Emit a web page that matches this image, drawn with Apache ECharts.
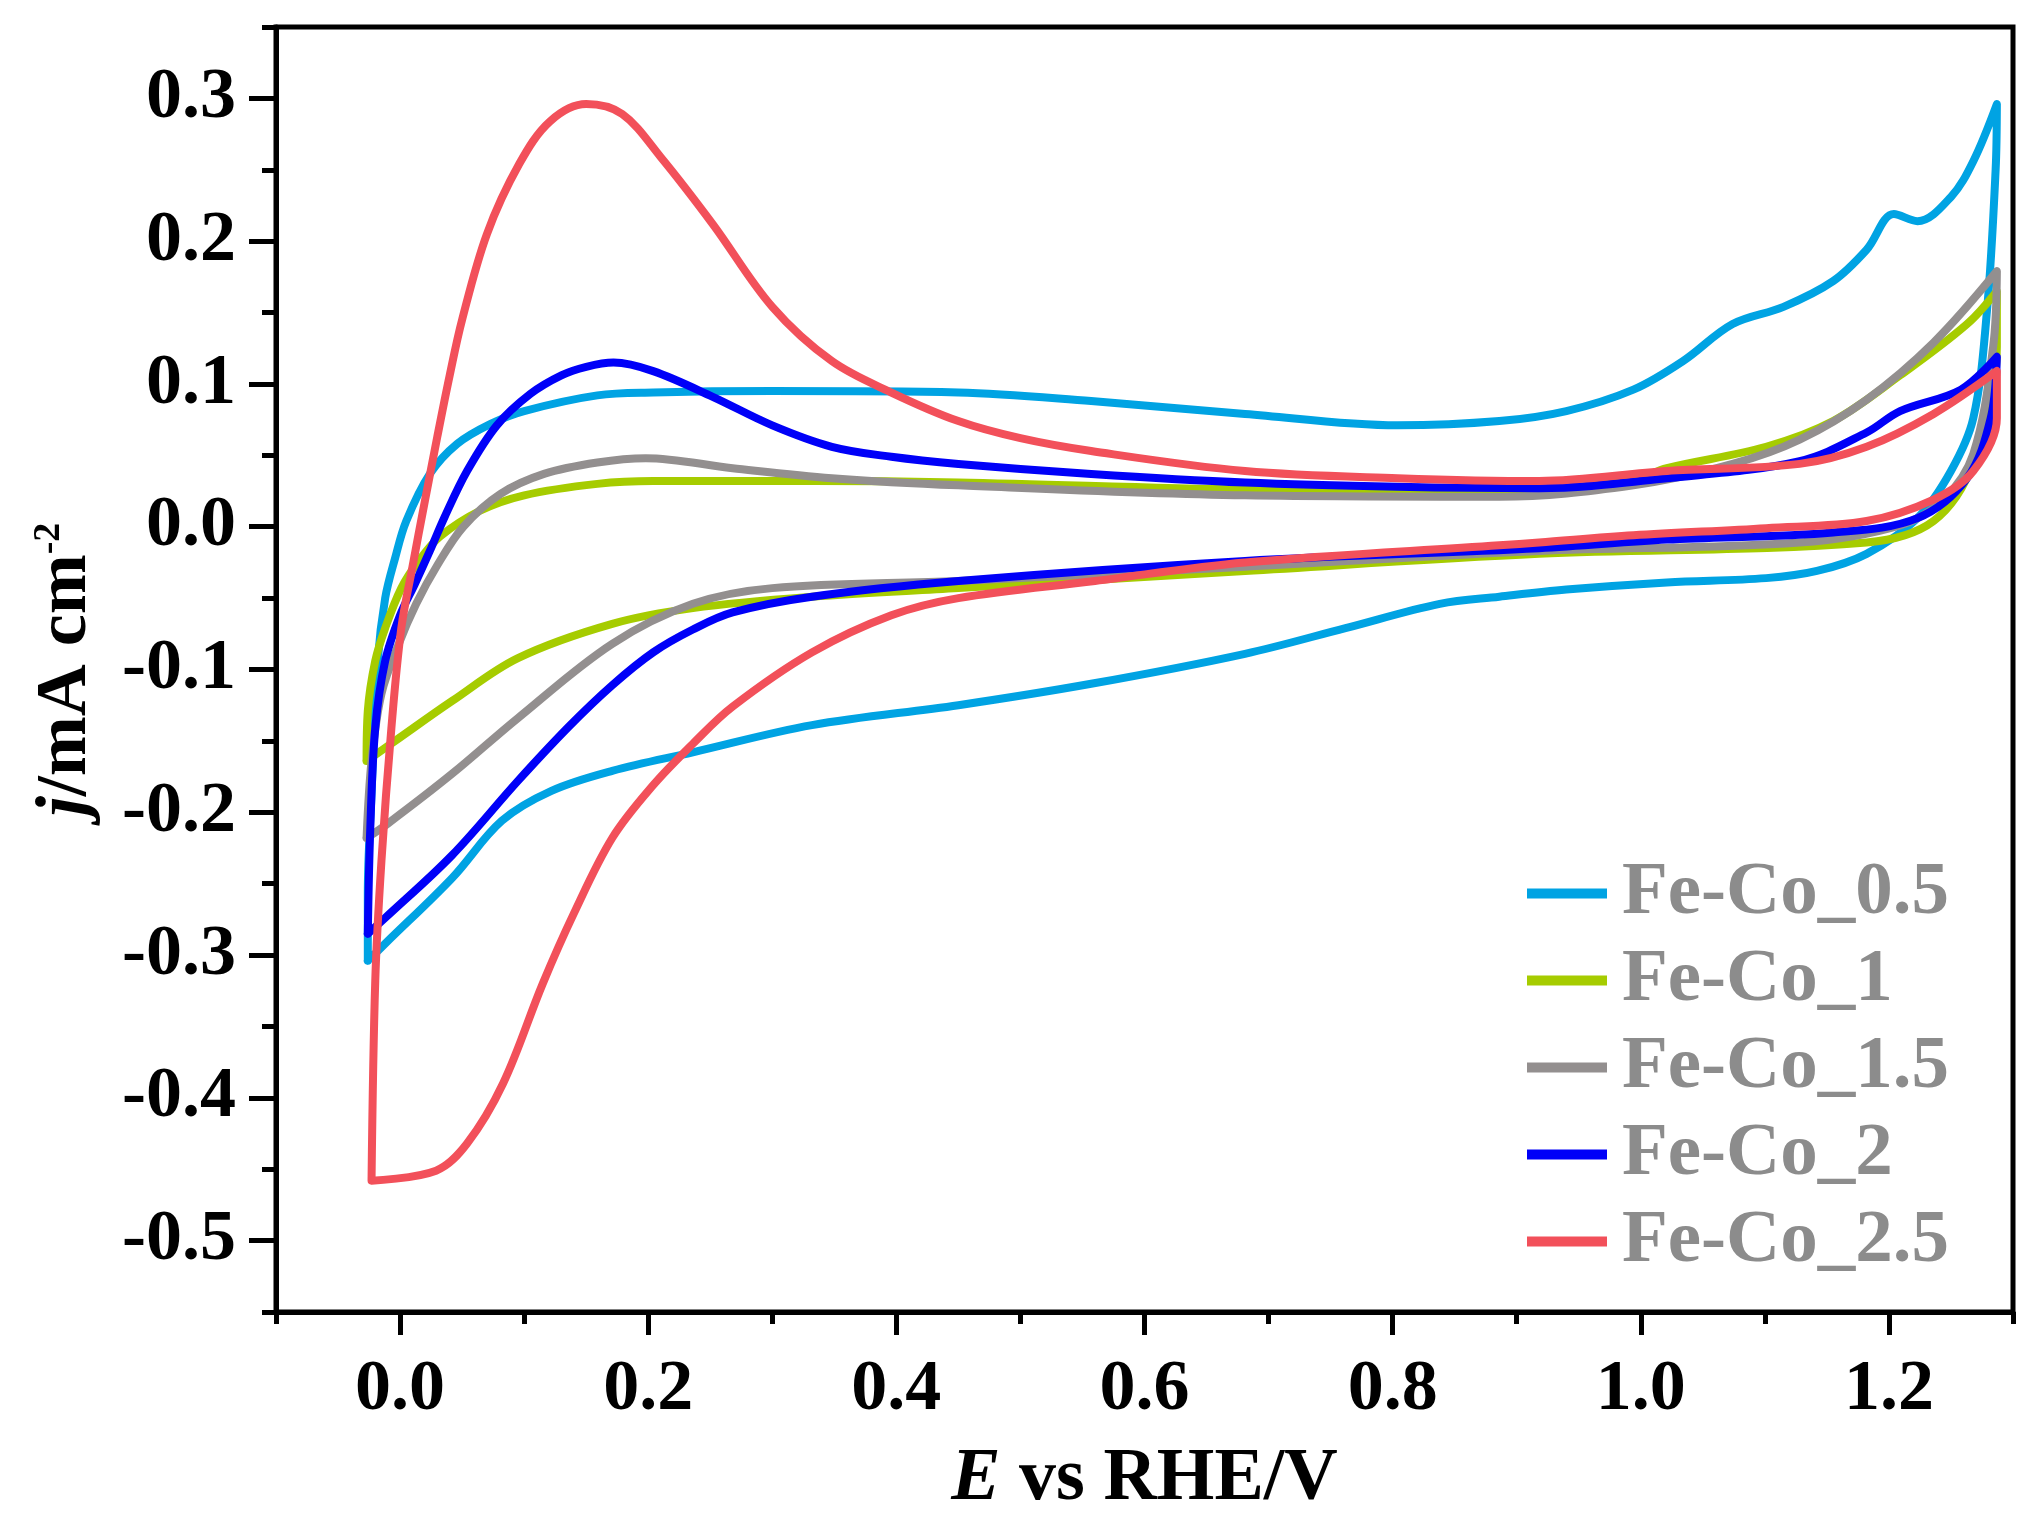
<!DOCTYPE html>
<html>
<head>
<meta charset="utf-8">
<script src="https://cdn.jsdelivr.net/npm/echarts@6/dist/echarts.min.js"></script>
<style>
html,body{margin:0;padding:0;background:#fff;}
#chart{width:2038px;height:1536px;}
</style>
</head>
<body>
<div id="chart"></div>
<script>
// ---- data (E vs RHE / V, j / mA cm^-2), each loop: anodic sweep then cathodic sweep ----
const seriesNames = ['Fe-Co_0.5', 'Fe-Co_1', 'Fe-Co_1.5', 'Fe-Co_2', 'Fe-Co_2.5'];
const seriesColors = ['#00A3E3', '#A6CC00', '#938F8F', '#0000F8', '#F2505A'];

const feCo05 = [
  [-0.026,-0.304],[-0.026,-0.257],[-0.023,-0.187],[-0.018,-0.094],[-0.012,-0.050],[-0.004,-0.022],
  [0.005,0.004],[0.024,0.037],[0.046,0.058],[0.073,0.072],[0.100,0.081],[0.159,0.092],
  [0.204,0.094],[0.300,0.095],[0.450,0.094],[0.557,0.088],[0.681,0.079],[0.804,0.071],
  [0.886,0.074],[0.940,0.081],[0.994,0.096],[1.034,0.116],[1.074,0.142],[1.115,0.154],
  [1.155,0.172],[1.182,0.194],[1.204,0.219],[1.223,0.214],[1.250,0.231],[1.268,0.256],[1.287,0.296],
  [1.286,0.250],[1.279,0.151],[1.268,0.076],[1.250,0.039],[1.223,0.006],[1.182,-0.019],
  [1.142,-0.031],[1.101,-0.036],[1.021,-0.039],[0.940,-0.044],[0.886,-0.049],[0.838,-0.054],
  [0.762,-0.071],[0.681,-0.089],[0.557,-0.110],[0.450,-0.125],[0.332,-0.139],[0.236,-0.158],
  [0.171,-0.171],[0.122,-0.185],[0.082,-0.206],[0.042,-0.246],[-0.012,-0.292],[-0.026,-0.304]
];
const feCo1 = [
  [-0.027,-0.164],[-0.026,-0.129],[-0.020,-0.094],[-0.012,-0.071],[0.001,-0.043],[0.015,-0.024],
  [0.032,-0.007],[0.064,0.011],[0.100,0.022],[0.159,0.030],[0.204,0.032],[0.332,0.032],
  [0.450,0.031],[0.681,0.026],[0.900,0.025],[0.994,0.033],[1.021,0.041],[1.101,0.056],
  [1.155,0.074],[1.209,0.106],[1.263,0.142],[1.287,0.165],
  [1.287,0.126],[1.268,0.045],[1.236,0.004],[1.182,-0.011],[0.918,-0.019],[0.681,-0.031],
  [0.450,-0.043],[0.332,-0.049],[0.236,-0.057],[0.171,-0.068],[0.095,-0.092],[0.042,-0.122],
  [-0.004,-0.150],[-0.027,-0.164]
];
const feCo15 = [
  [-0.027,-0.218],[-0.023,-0.164],[-0.015,-0.117],[-0.001,-0.082],[0.013,-0.054],[0.030,-0.027],
  [0.051,0.000],[0.081,0.023],[0.116,0.037],[0.159,0.045],[0.198,0.048],[0.268,0.041],
  [0.348,0.034],[0.450,0.029],[0.681,0.022],[0.886,0.021],[0.994,0.029],[1.074,0.044],
  [1.128,0.061],[1.182,0.089],[1.236,0.129],[1.287,0.179],
  [1.284,0.126],[1.268,0.051],[1.244,0.019],[1.209,0.001],[1.128,-0.011],[0.918,-0.017],
  [0.681,-0.028],[0.450,-0.038],[0.300,-0.043],[0.236,-0.054],[0.171,-0.082],[0.095,-0.134],
  [0.042,-0.173],[-0.010,-0.208],[-0.027,-0.218]
];
const feCo2 = [
  [-0.026,-0.285],[-0.024,-0.211],[-0.020,-0.141],[-0.012,-0.094],[0.000,-0.062],[0.012,-0.040],
  [0.024,-0.017],[0.036,0.007],[0.054,0.039],[0.078,0.071],[0.105,0.093],[0.130,0.106],
  [0.150,0.112],[0.172,0.115],[0.204,0.109],[0.252,0.091],[0.300,0.071],[0.348,0.056],
  [0.396,0.049],[0.450,0.044],[0.557,0.037],[0.681,0.031],[0.804,0.028],[0.918,0.027],
  [1.021,0.034],[1.128,0.046],[1.182,0.066],[1.209,0.081],[1.258,0.096],[1.287,0.119],
  [1.282,0.076],[1.263,0.034],[1.223,0.006],[1.155,-0.004],[1.021,-0.009],[0.918,-0.015],
  [0.681,-0.024],[0.450,-0.038],[0.332,-0.049],[0.268,-0.060],[0.236,-0.072],[0.204,-0.088],
  [0.171,-0.111],[0.136,-0.140],[0.095,-0.178],[0.042,-0.230],[-0.012,-0.274],[-0.026,-0.285]
];
const feCo25 = [
  [-0.023,-0.458],[-0.020,-0.318],[-0.015,-0.234],[-0.007,-0.141],[0.001,-0.071],[0.010,-0.028],
  [0.020,0.018],[0.030,0.063],[0.040,0.106],[0.050,0.145],[0.070,0.205],[0.096,0.254],
  [0.121,0.284],[0.150,0.296],[0.179,0.289],[0.210,0.259],[0.252,0.212],[0.300,0.154],
  [0.348,0.116],[0.396,0.094],[0.450,0.074],[0.500,0.062],[0.557,0.053],[0.681,0.039],
  [0.804,0.034],[0.918,0.032],[1.021,0.039],[1.128,0.044],[1.182,0.056],[1.236,0.079],[1.287,0.109],
  [1.287,0.076],[1.268,0.039],[1.236,0.019],[1.182,0.004],[1.101,-0.001],[0.994,-0.006],
  [0.918,-0.011],[0.886,-0.013],[0.681,-0.025],[0.560,-0.038],[0.450,-0.050],[0.396,-0.062],
  [0.332,-0.088],[0.268,-0.126],[0.236,-0.152],[0.204,-0.181],[0.171,-0.218],[0.140,-0.271],
  [0.115,-0.320],[0.083,-0.390],[0.054,-0.432],[0.029,-0.451],[-0.023,-0.458]
];
const seriesData = [feCo05, feCo1, feCo15, feCo2, feCo25];

// ---- axes ----
const xMajorTicks = [0.0, 0.2, 0.4, 0.6, 0.8, 1.0, 1.2];
const xMinorTicks = [-0.1, 0.1, 0.3, 0.5, 0.7, 0.9, 1.1, 1.3];
const yMajorTicks = [-0.5, -0.4, -0.3, -0.2, -0.1, 0.0, 0.1, 0.2, 0.3];
const yMinorTicks = [-0.55, -0.45, -0.35, -0.25, -0.15, -0.05, 0.05, 0.15, 0.25, 0.35];

const FONT = 'Liberation Serif';
const W = 2038, H = 1536;
const G = {left: 276, right: 25, top: 27, bottom: 224};
const gw = W - G.left - G.right, gh = H - G.top - G.bottom;

const chart = echarts.init(document.getElementById('chart'), null, {renderer: 'canvas'});
const lbl = {fontFamily: FONT, fontWeight: 'bold', fontSize: 72, color: '#000'};

const option = {
  backgroundColor: '#fff',
  animation: false,
  grid: {left: G.left, right: G.right, top: G.top, bottom: G.bottom, show: true,
         borderColor: '#000', borderWidth: 5, backgroundColor: 'transparent'},
  legend: {
    orient: 'vertical', left: 1522, top: 851, itemWidth: 80, itemHeight: 10, itemGap: 12,
    icon: 'rect',
    data: seriesNames,
    textStyle: {fontFamily: FONT, fontWeight: 'bold', fontSize: 75, color: '#8C8C8C',
                padding: [0, 0, 0, 10], lineHeight: 72}
  },
  xAxis: [{
    type: 'value', min: -0.1, max: 1.3, position: 'bottom',
    name: '{i|E}{n| vs RHE/V}', nameLocation: 'middle', nameGap: 131,
    nameTextStyle: {rich: {
      i: {fontFamily: FONT, fontWeight: 'bold', fontStyle: 'italic', fontSize: 74, color: '#000'},
      n: {fontFamily: FONT, fontWeight: 'bold', fontSize: 74, color: '#000'}
    }},
    axisLine: {show: true, onZero: false, lineStyle: {color: '#000', width: 5}},
    axisTick: {show: true, inside: false, length: 23, lineStyle: {color: '#000', width: 5},
               customValues: xMajorTicks},
    axisLabel: Object.assign({margin: 42, customValues: xMajorTicks,
               formatter: v => v.toFixed(1)}, lbl),
    splitLine: {show: false}
  }, {
    type: 'value', min: -0.1, max: 1.3, position: 'top', offset: -gh,
    axisLine: {show: false, onZero: false},
    axisTick: {show: true, inside: true, length: 12, lineStyle: {color: '#000', width: 5},
               customValues: xMinorTicks},
    axisLabel: {show: false},
    splitLine: {show: false}
  }],
  yAxis: [{
    type: 'value', min: -0.55, max: 0.35, position: 'left',
    name: '{i|j}{n|/mA cm}{s|-2}', nameLocation: 'middle', nameGap: 174, nameRotate: 90,
    nameTextStyle: {rich: {
      i: {fontFamily: FONT, fontWeight: 'bold', fontStyle: 'italic', fontSize: 72, color: '#000', lineHeight: 72},
      n: {fontFamily: FONT, fontWeight: 'bold', fontSize: 72, color: '#000', lineHeight: 72},
      s: {fontFamily: FONT, fontWeight: 'bold', fontSize: 38, color: '#000', verticalAlign: 'top'}
    }},
    axisLine: {show: true, onZero: false, lineStyle: {color: '#000', width: 5}},
    axisTick: {show: true, inside: false, length: 27, lineStyle: {color: '#000', width: 5},
               customValues: yMajorTicks},
    axisLabel: Object.assign({margin: 40, customValues: yMajorTicks,
               formatter: v => v.toFixed(1)}, lbl),
    splitLine: {show: false}
  }, {
    type: 'value', min: -0.55, max: 0.35, position: 'right', offset: -gw,
    axisLine: {show: false, onZero: false},
    axisTick: {show: true, inside: true, length: 14, lineStyle: {color: '#000', width: 5},
               customValues: yMinorTicks},
    axisLabel: {show: false},
    splitLine: {show: false}
  }],
  series: seriesNames.map((name, i) => ({
    name: name, type: 'line', xAxisIndex: 0, yAxisIndex: 0,
    data: seriesData[i], showSymbol: false, smooth: 0.35,
    lineStyle: {width: 8, color: seriesColors[i], join: 'round', cap: 'round'},
    itemStyle: {color: seriesColors[i]},
    z: 2 + i
  }))
};
chart.setOption(option);
</script>
</body>
</html>
